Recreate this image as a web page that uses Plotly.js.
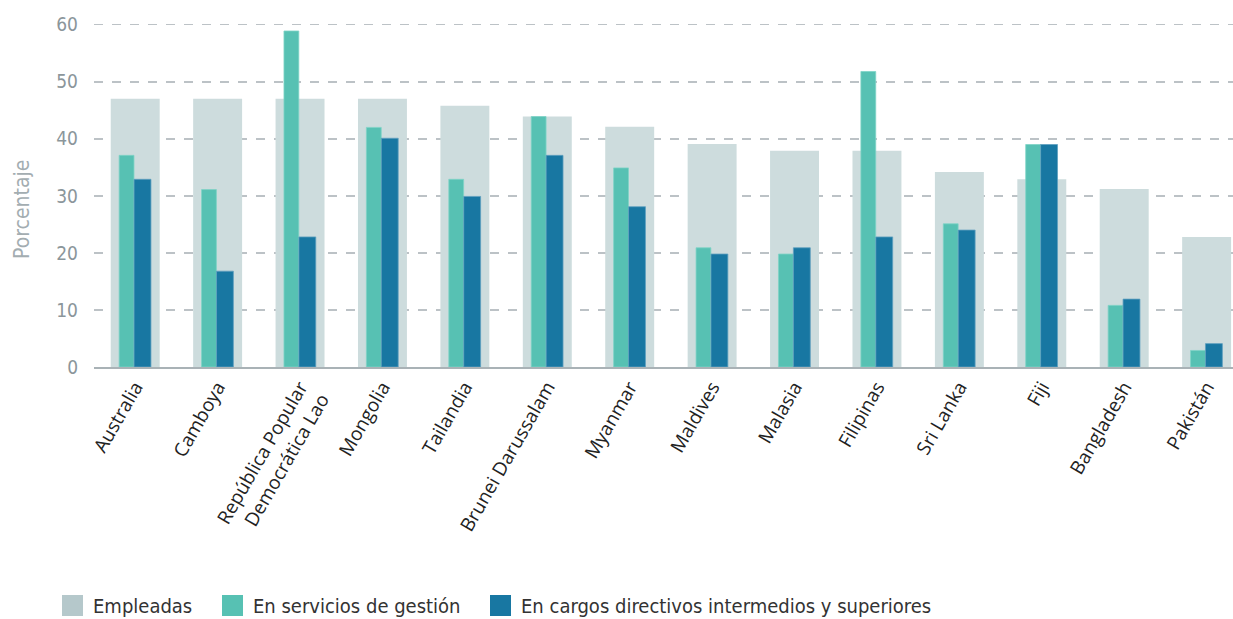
<!DOCTYPE html>
<html>
<head>
<meta charset="utf-8">
<script src="https://cdn.plot.ly/plotly-3.0.1.min.js"></script>
<style>html,body{margin:0;padding:0;background:#fff;}#chart{width:1233px;height:619px;}</style>
</head>
<body>
<div id="chart"></div>
<script>
const categories = ["Australia", "Camboya", "República Popular<br>Democrática Lao", "Mongolia", "Tailandia", "Brunei Darussalam", "Myanmar", "Maldives", "Malasia", "Filipinas", "Sri Lanka", "Fiji", "Bangladesh", "Pakistán"];
const empleadas = [47, 47, 47, 47, 45.8, 43.9, 42.1, 39.1, 37.9, 37.9, 34.2, 32.9, 31.2, 22.8];
const servicios = [37.1, 31.1, 58.9, 42.0, 32.9, 43.9, 34.9, 20.9, 19.8, 51.8, 25.1, 39.0, 10.8, 2.9];
const cargos = [32.9, 16.8, 22.8, 40.1, 29.9, 37.1, 28.1, 19.8, 20.9, 22.8, 24.0, 39.0, 11.9, 4.1];
const seriesNames = ["Empleadas", "En servicios de gestión", "En cargos directivos intermedios y superiores"];

const idx = categories.map((c, i) => i);
const narrow = '"Liberation Sans Narrow", "DejaVu Sans Condensed", sans-serif';

// layout geometry (pixels)
const W = 1233, H = 619;
const M = {l: 94, r: 0, t: 23, b: 252};
const plotW = W - M.l - M.r, plotH = H - M.t - M.b;
const px = x => (x - M.l) / plotW;
const py = y => (H - M.b - y) / plotH;

const barColors = ['#cddcdd', '#57c1b3', '#1877a2'];
const swatchColors = ['#b5c8cb', '#57c1b3', '#1877a2'];

const traces = [
  {type: 'bar', name: seriesNames[0], x: idx, y: empleadas, width: 0.594, offset: -0.297,
   marker: {color: barColors[0]}},
  {type: 'bar', name: seriesNames[1], x: idx, y: servicios, width: 0.18, offset: -0.195,
   marker: {color: barColors[1], line: {color: '#7fd3c6', width: 0.8}}},
  {type: 'bar', name: seriesNames[2], x: idx, y: cargos, width: 0.205, offset: -0.014,
   marker: {color: barColors[2], line: {color: '#5f9fbf', width: 0.8}}}
];

// custom legend (swatch left pixel positions)
const legendX = [62, 222, 490];
const shapes = [], annotations = [];
seriesNames.forEach((n, i) => {
  shapes.push({type: 'rect', xref: 'paper', yref: 'paper',
    x0: px(legendX[i]), x1: px(legendX[i] + 21), y0: py(616), y1: py(595),
    fillcolor: swatchColors[i], line: {width: 0}});
  annotations.push({xref: 'paper', yref: 'paper', x: px(legendX[i] + 29), y: py(606),
    xanchor: 'left', yanchor: 'middle', showarrow: false, text: n,
    font: {family: narrow, size: 20, color: '#333'}});
});
annotations.push({xref: 'paper', yref: 'paper', x: px(22), y: py(210), xanchor: 'center', yanchor: 'middle',
  showarrow: false, textangle: -90, text: 'Porcentaje',
  font: {family: narrow, size: 21, color: '#a3adb1'}});

const layout = {
  width: W, height: H,
  margin: M,
  paper_bgcolor: '#fff', plot_bgcolor: '#fff',
  barmode: 'overlay',
  showlegend: false,
  shapes: shapes,
  annotations: annotations,
  xaxis: {range: [-0.5, 13.32], tickmode: 'array', tickvals: idx, ticktext: categories,
          tickangle: -60, showgrid: false, zeroline: false, showline: true, linecolor: '#a9b2b6', linewidth: 1.5,
          ticks: '', tickfont: {family: '"Open Sans", sans-serif', size: 19, color: '#222'}, fixedrange: true},
  yaxis: {range: [0, 60.3], tickvals: [0, 10, 20, 30, 40, 50, 60], showgrid: true, gridcolor: '#bcc2c6',
          griddash: 'dash', gridwidth: 1.5, zeroline: false, showline: false, ticks: '', ticklen: 0,
          ticklabelstandoff: 15,
          tickfont: {family: narrow, size: 19, color: '#8b969b'},
          fixedrange: true, layer: 'below traces'}
};

Plotly.newPlot('chart', traces, layout, {displayModeBar: false, staticPlot: true});
</script>
</body>
</html>
